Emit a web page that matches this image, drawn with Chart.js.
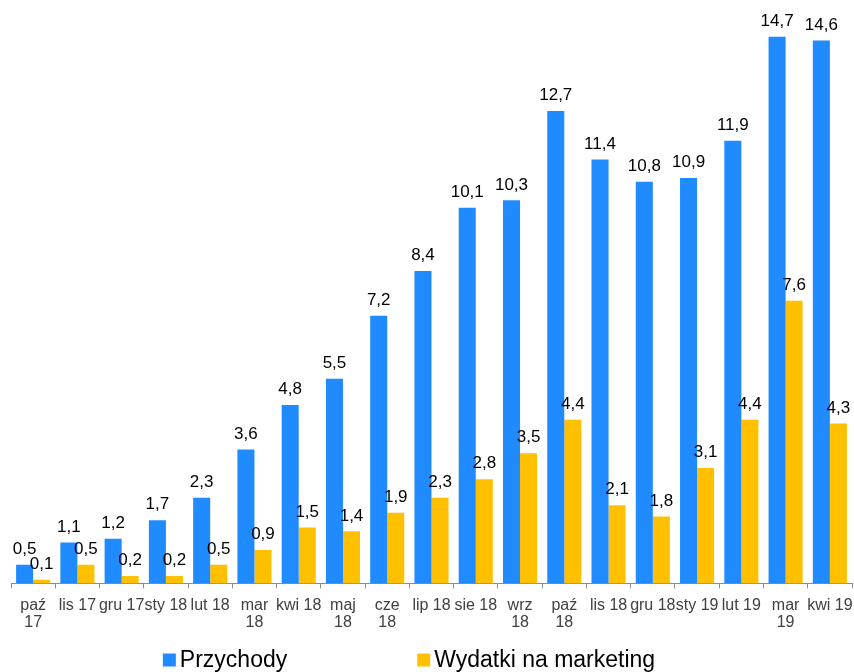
<!DOCTYPE html>
<html lang="pl">
<head>
<meta charset="utf-8">
<script src="https://cdn.jsdelivr.net/npm/chart.js@4/dist/chart.umd.min.js"></script>
<style>
    html, body { margin: 0; padding: 0; background: #fff; }
    #wrap { width: 854px; height: 672px; }
</style>
</head>
<body>
<div id="wrap"><canvas id="revChart"></canvas></div>
<script>
// Months (multi-line where the original wraps)
const months = [
    ['paź', '17'], 'lis 17', 'gru 17', 'sty 18', 'lut 18', ['mar', '18'], 'kwi 18',
    ['maj', '18'], ['cze', '18'], 'lip 18', 'sie 18', ['wrz', '18'], ['paź', '18'],
    'lis 18', 'gru 18', 'sty 19', 'lut 19', ['mar', '19'], 'kwi 19'
];
const revenue = [0.5, 1.1, 1.2, 1.7, 2.3, 3.6, 4.8, 5.5, 7.2, 8.4, 10.1, 10.3, 12.7, 11.4, 10.8, 10.9, 11.9, 14.7, 14.6];
const marketing = [0.1, 0.5, 0.2, 0.2, 0.5, 0.9, 1.5, 1.4, 1.9, 2.3, 2.8, 3.5, 4.4, 2.1, 1.8, 3.1, 4.4, 7.6, 4.3];
const seriesNames = ['Przychody', 'Wydatki na marketing'];

const FONT = "'Liberation Sans', Arial, sans-serif";
const fmt = v => v.toFixed(1).replace('.', ',');

// value labels above each bar
const valueLabels = {
    id: 'valueLabels',
    afterDatasetsDraw(chart) {
        const c = chart.ctx;
        c.save();
        c.font = '17px ' + FONT;
        c.fillStyle = '#000';
        c.textAlign = 'center';
        c.textBaseline = 'bottom';
        chart.data.datasets.forEach((ds, i) => {
            chart.getDatasetMeta(i).data.forEach((bar, j) => {
                c.fillText(fmt(ds.data[j]), bar.x, bar.y - 7);
            });
        });
        c.restore();
    }
};

// legend drawn by hand so the wide gap between items can be kept
const bottomLegend = {
    id: 'bottomLegend',
    afterDraw(chart) {
        const c = chart.ctx;
        c.save();
        c.font = '23px ' + FONT;
        c.textBaseline = 'middle';
        const gap = 130, box = 13;
        const items = chart.data.datasets.map(ds => ({
            text: ds.label, color: ds.backgroundColor,
            w: box + 4 + c.measureText(ds.label).width
        }));
        const total = items.reduce((s, it) => s + it.w, 0) + gap * (items.length - 1);
        let x = chart.width / 2 - 18 - total / 2;
        const y = 660;
        items.forEach(it => {
            c.fillStyle = it.color;
            c.fillRect(x, y - box / 2, box, box);
            c.fillStyle = '#000';
            c.fillText(it.text, x + box + 4, y + 1);
            x += it.w + gap;
        });
        c.restore();
    }
};

new Chart(document.getElementById('revChart'), {
    type: 'bar',
    data: {
        labels: months,
        datasets: [{
            label: seriesNames[0],
            data: revenue,
            backgroundColor: '#1f8bff',
            categoryPercentage: 0.77,
            barPercentage: 1
        }, {
            label: seriesNames[1],
            data: marketing,
            backgroundColor: '#ffc000',
            categoryPercentage: 0.77,
            barPercentage: 1
        }]
    },
    options: {
        responsive: true,
        maintainAspectRatio: false,
        animation: false,
        layout: {
            padding: { left: 11, right: 2, top: 7, bottom: 32 }
        },
        plugins: {
            legend: { display: false },
            tooltip: { enabled: false }
        },
        scales: {
            x: {
                // labels may spill past the ends, like the original
                afterFit(scale) {
                    scale.paddingLeft = 0;
                    scale.paddingRight = 0;
                },
                grid: {
                    display: true,
                    offset: true,
                    drawOnChartArea: false,
                    tickLength: 5,
                    color: '#8c8c8c'
                },
                border: { color: '#8c8c8c', width: 1 },
                ticks: {
                    color: '#404040',
                    font: { family: FONT, size: 16, lineHeight: 1.05 },
                    padding: 9,
                    maxRotation: 0,
                    autoSkip: false
                }
            },
            y: {
                display: false,
                min: 0,
                max: 15.5
            }
        }
    },
    plugins: [valueLabels, bottomLegend]
});
</script>
</body>
</html>
